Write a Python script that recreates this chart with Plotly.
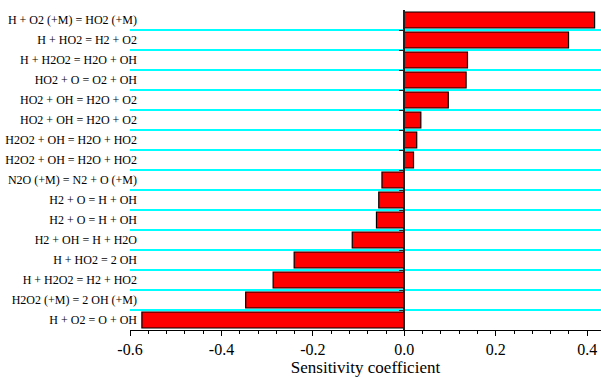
import plotly.graph_objects as go

reactions = [
    "H + O2 (+M) = HO2 (+M)",
    "H + HO2 = H2 + O2",
    "H + H2O2 = H2O + OH",
    "HO2 + O = O2 + OH",
    "HO2 + OH = H2O + O2",
    "HO2 + OH = H2O + O2",
    "H2O2 + OH = H2O + HO2",
    "H2O2 + OH = H2O + HO2",
    "N2O (+M) = N2 + O (+M)",
    "H2 + O = H + OH",
    "H2 + O = H + OH",
    "H2 + OH = H + H2O",
    "H + HO2 = 2 OH",
    "H + H2O2 = H2 + HO2",
    "H2O2 (+M) = 2 OH (+M)",
    "H + O2 = O + OH",
]
sensitivity = [0.416, 0.359, 0.138, 0.135, 0.096, 0.036, 0.027, 0.020,
               -0.049, -0.056, -0.061, -0.114, -0.241, -0.287, -0.347, -0.574]
x_tickvals = [-0.6, -0.4, -0.2, 0.0, 0.2, 0.4]
x_ticktext = ["-0.6", "-0.4", "-0.2", "0.0", "0.2", "0.4"]

x_range = [-0.6, 0.43]
n = len(reactions)
idx = list(range(n))
boundaries = [i + 0.5 for i in range(n - 1)]
zero_pos = (0 - x_range[0]) / (x_range[1] - x_range[0])

fig = go.Figure()
fig.add_trace(go.Bar(
    x=sensitivity, y=idx, orientation="h", width=0.8,
    marker=dict(color="#FF0000", line=dict(color="#000000", width=1.2)),
    showlegend=False,
))
fig.add_trace(go.Scatter(x=[0], y=[0], yaxis="y2", mode="markers",
                         marker=dict(opacity=0), showlegend=False, hoverinfo="skip"))

font = "Liberation Serif, Times New Roman, serif"
fig.update_layout(
    width=601, height=377,
    margin=dict(l=130, r=0, t=10, b=47, autoexpand=False),
    plot_bgcolor="white", paper_bgcolor="white",
    font=dict(family=font, color="black"),
    xaxis=dict(
        range=x_range, tickvals=x_tickvals, ticktext=x_ticktext,
        tickfont=dict(size=16, family=font), showgrid=False, zeroline=False,
        showline=True, linecolor="black", linewidth=1, automargin=False,
        ticks="outside", ticklen=5, tickcolor="black",
        minor=dict(ticks="outside", ticklen=3, dtick=0.04, tick0=-0.6, tickcolor="black", showgrid=False),
        title=dict(text="Sensitivity coefficient", font=dict(size=17, family=font), standoff=1),
    ),
    yaxis=dict(
        range=[n - 0.5, -0.5], tickvals=idx, ticktext=reactions,
        tickfont=dict(size=12, family=font), showgrid=False, zeroline=False, showline=False,
        ticks="", ticklabelstandoff=-8, automargin=False,
    ),
    yaxis2=dict(
        range=[n - 0.5, -0.5], overlaying="y", anchor="free", position=zero_pos,
        side="left", tickvals=boundaries, showticklabels=False, automargin=False,
        showgrid=True, gridcolor="#00FFFF", gridwidth=1.5,
        showline=True, linecolor="#222222", linewidth=2,
        ticks="outside", ticklen=4, tickcolor="#222222", zeroline=False,
    ),
)
fig.write_html("out.html", config={"displayModeBar": False},
               post_script="document.body.style.margin='0';document.body.style.overflow='hidden';")
